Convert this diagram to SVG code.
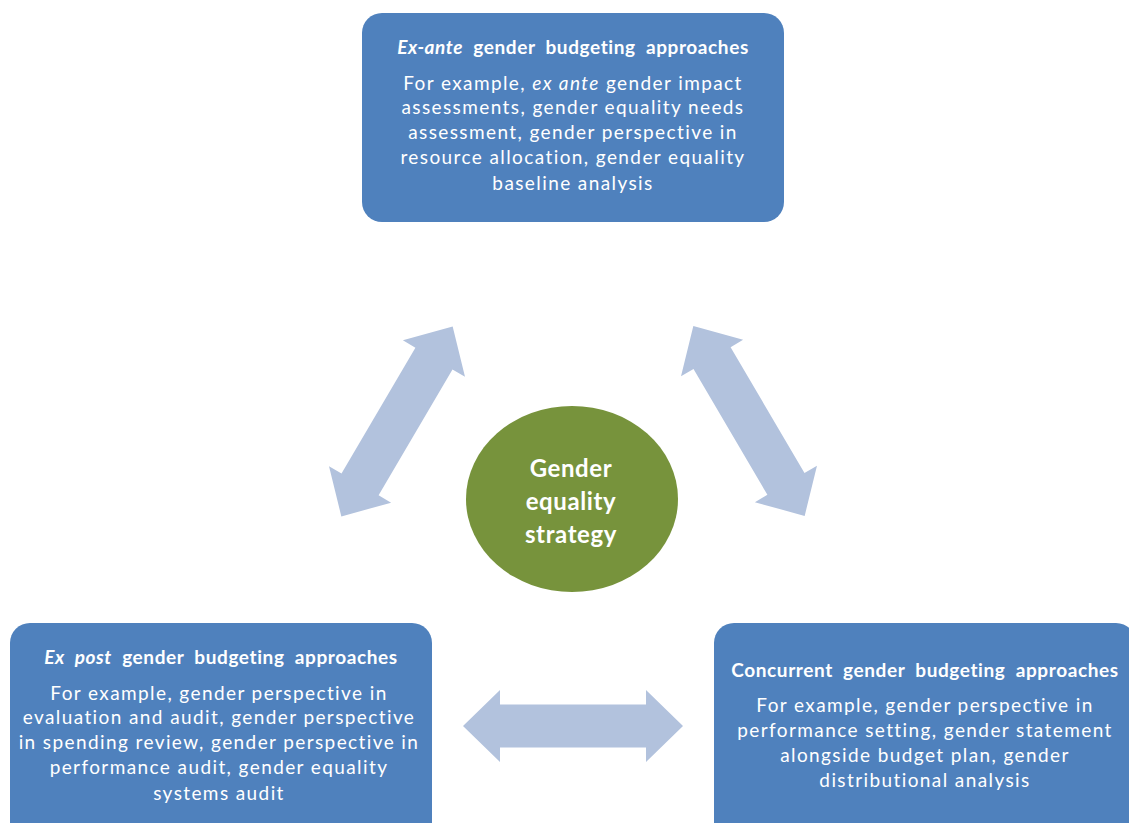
<svg xmlns="http://www.w3.org/2000/svg" xmlns:xlink="http://www.w3.org/1999/xlink" width="1129" height="823" viewBox="0 0 1129 823">
  <style>
    .box { fill: #4F81BD; }
    .title { font-family: Lato, "Liberation Sans", sans-serif; font-size: 19px; font-weight: bold; fill: #FFFFFF; text-anchor: middle; letter-spacing: 0.6px; word-spacing: 5px; }
    .body { font-family: Lato, "Liberation Sans", sans-serif; font-size: 19px; fill: #FFFFFF; text-anchor: middle; letter-spacing: 1.4px; }
    .ctext { font-family: Lato, "Liberation Sans", sans-serif; font-size: 24px; font-weight: bold; fill: #FFFFFF; text-anchor: middle; letter-spacing: 0.6px; }
    .arrow { fill: #B2C2DD; }
    .it { font-style: italic; }
  </style>
  <defs>
    <path id="dbl" d="M -110 0 L -73 -36 L -73 -21.5 L 73 -21.5 L 73 -36 L 110 0 L 73 36 L 73 21.5 L -73 21.5 L -73 36 Z"/>
  </defs>
  <rect width="1129" height="823" fill="#FFFFFF"/>

  <g id="connectors">
    <use href="#dbl" xlink:href="#dbl" class="arrow" transform="translate(397 421.5) rotate(-59.6)"/>
    <use href="#dbl" xlink:href="#dbl" class="arrow" transform="translate(749 421) rotate(59.6)"/>
    <use href="#dbl" xlink:href="#dbl" class="arrow" transform="translate(573 726)"/>
  </g>

  <g id="node-exante">
    <rect class="box" x="362" y="13" width="422" height="209" rx="20" ry="20"/>
    <text class="title" x="573" y="54"><tspan class="it">Ex-ante</tspan> gender budgeting approaches</text>
    <text class="body" x="573" y="90">For example, <tspan class="it">ex ante</tspan> gender impact</text>
    <text class="body" x="573" y="114">assessments, gender equality needs</text>
    <text class="body" x="573" y="139">assessment, gender perspective in</text>
    <text class="body" x="573" y="164">resource allocation, gender equality</text>
    <text class="body" x="573" y="190">baseline analysis</text>
  </g>

  <g id="node-centre">
    <ellipse cx="572" cy="499" rx="106" ry="93" fill="#77933C"/>
    <text class="ctext" x="571" y="477">Gender</text>
    <text class="ctext" x="571" y="510">equality</text>
    <text class="ctext" x="571" y="543">strategy</text>
  </g>

  <g id="node-expost">
    <rect class="box" x="10" y="623" width="422" height="230" rx="20" ry="20"/>
    <text class="title" x="221" y="664"><tspan class="it">Ex post</tspan> gender budgeting approaches</text>
    <text class="body" x="219" y="700">For example, gender perspective in</text>
    <text class="body" x="219" y="724">evaluation and audit, gender perspective</text>
    <text class="body" x="219" y="749">in spending review, gender perspective in</text>
    <text class="body" x="219" y="774">performance audit, gender equality</text>
    <text class="body" x="219" y="800">systems audit</text>
  </g>

  <g id="node-concurrent">
    <rect class="box" x="714" y="623" width="422" height="230" rx="20" ry="20"/>
    <text class="title" x="925" y="677">Concurrent gender budgeting approaches</text>
    <text class="body" x="925" y="712">For example, gender perspective in</text>
    <text class="body" x="925" y="737">performance setting, gender statement</text>
    <text class="body" x="925" y="762">alongside budget plan, gender</text>
    <text class="body" x="925" y="787">distributional analysis</text>
  </g>
</svg>
